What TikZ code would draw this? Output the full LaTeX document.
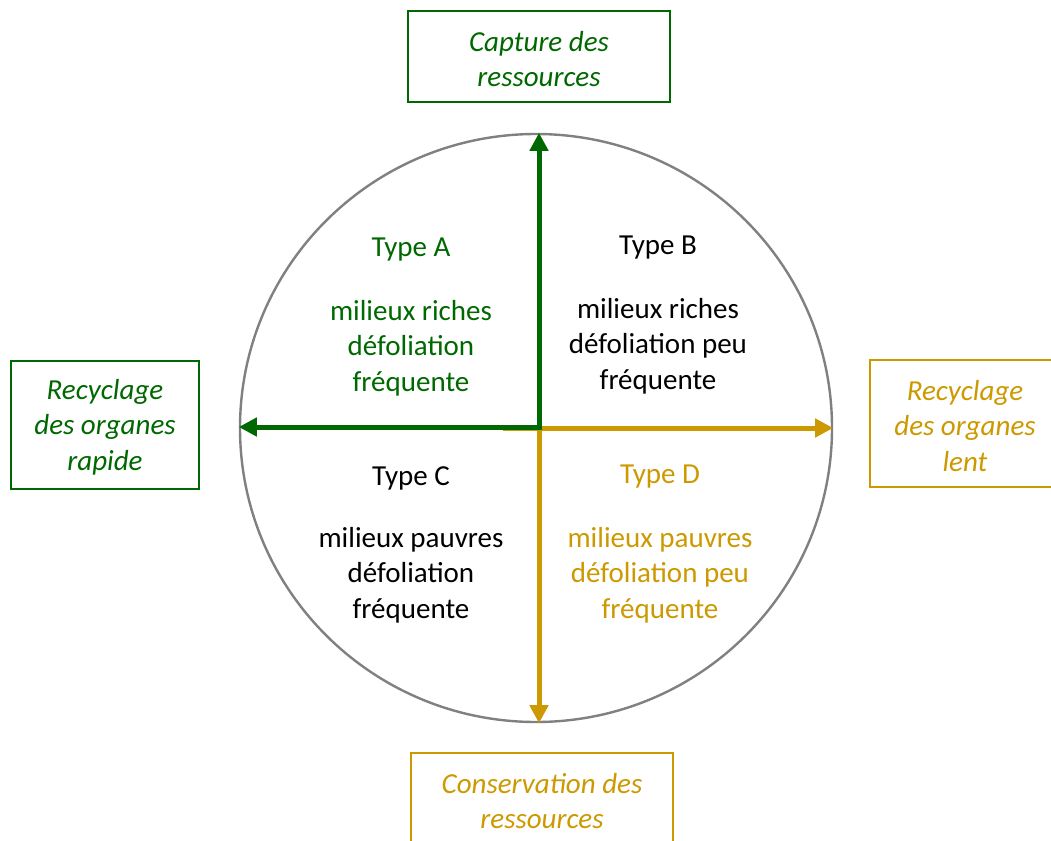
\documentclass[tikz,border=0pt]{standalone}
\usepackage{fontspec}
\setmainfont{Carlito}
\usetikzlibrary{arrows.meta,shapes.geometric}
\definecolor{dgreen}{RGB}{0,104,0}
\definecolor{gold}{RGB}{204,153,0}
\definecolor{ring}{RGB}{128,128,128}
\begin{document}
\begin{tikzpicture}[x=1pt,y=-1pt,
  lab/.style={font=\fontsize{29}{35.5}\selectfont, align=center, inner sep=0pt},
  frame/.style={draw, line width=1.8pt, inner sep=0pt},
  btext/.style={font=\fontsize{29}{35.5}\selectfont\itshape, align=center, inner sep=0pt},
  axis/.style={line width=5pt, -{Triangle[length=18pt,width=18pt]}}]
\useasboundingbox (0,0) rectangle (1051,840);
\clip (0,0) rectangle (1051,840);
% boxes
\node[frame, dgreen, minimum width=262pt, minimum height=91pt] (top) at (539,56.5) {};
\node[btext, dgreen] (toptext) at (539,59) {Capture des\\ressources};
\node[frame, dgreen, minimum width=188pt, minimum height=128pt] (left) at (105,425) {};
\node[btext, dgreen] (lefttext) at (105,427) {Recyclage\\des organes\\rapide};
\node[frame, gold, minimum width=190pt, minimum height=127pt] (right) at (965,423.5) {};
\node[btext, gold] (righttext) at (965,426) {Recyclage\\des organes\\lent};
\node[frame, gold, minimum width=262pt, minimum height=91pt] (bottom) at (542,798.5) {};
\node[btext, gold] (bottomtext) at (542,801) {Conservation des\\ressources};
% circle
\node[ellipse, draw=ring, line width=2.4pt, minimum width=592pt, minimum height=588pt, inner sep=0pt] (circ) at (536,428) {};
\coordinate (g) at (503,428);
\coordinate (gv) at (539,428);
\coordinate (cv) at (539,429.5);
\coordinate (ch) at (542,427);
% axes
\draw[axis, gold] (g) -- (g -| circ.east);
\draw[axis, gold] (gv) -- (gv |- circ.south);
\draw[axis, dgreen] (cv) -- (cv |- circ.north);
\draw[axis, dgreen] (ch) -- (ch -| circ.west);
% labels
\node[lab, dgreen] (ta) at (411,250) {Type A};
\node[lab, dgreen] (ba) at (411,348) {milieux riches\\défoliation\\fréquente};
\node[lab] (tb) at (658,248) {Type B};
\node[lab] (bb) at (658,346) {milieux riches\\défoliation peu\\fréquente};
\node[lab] (tc) at (411,478) {Type C};
\node[lab] (bc) at (411,575) {milieux pauvres\\défoliation\\fréquente};
\node[lab, gold] (td) at (660,477) {Type D};
\node[lab, gold] (bd) at (660,575) {milieux pauvres\\défoliation peu\\fréquente};
\end{tikzpicture}
\end{document}
